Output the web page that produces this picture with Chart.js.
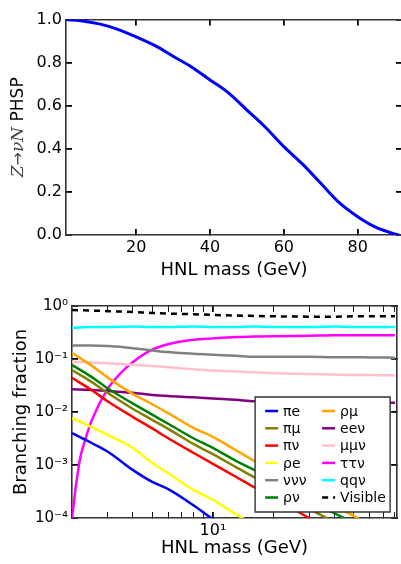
<!DOCTYPE html>
<html>
<head>
<meta charset="utf-8">
<script src="https://cdn.jsdelivr.net/npm/chart.js@4.4.0/dist/chart.umd.min.js"></script>
<style>
  html, body { margin: 0; padding: 0; background: #fff; overflow: hidden; width: 401px; height: 564px; }
  canvas { position: absolute; left: 0; }
  #phspChart { top: 0; }
  #brChart { top: 282px; }
</style>
</head>
<body>
<canvas id="phspChart" width="404" height="282"></canvas>
<canvas id="brChart" width="404" height="282"></canvas>
<script>
// top panel: Z -> nu N phase space
const phspMass = [1, 5, 10, 15, 20, 25, 30, 35, 40, 45, 50, 55, 60, 65, 70, 75, 80, 85, 90, 91.2];
const phspValue = [1.0, 0.995, 0.98, 0.955, 0.92, 0.88, 0.83, 0.78, 0.72, 0.66, 0.58, 0.50, 0.41, 0.33, 0.24, 0.15, 0.085, 0.035, 0.005, 0];
const phspXTicks = [20, 40, 60, 80];
const phspYTicks = [0, 0.2, 0.4, 0.6, 0.8, 1];

// bottom panel: branching fractions
const brMass = [2, 2.5, 3, 4, 5, 6, 8, 10, 13, 16, 20, 30, 40, 50, 60, 80];
const tauMass = [2, 2.1, 2.2, 2.3, 2.5, 3, 3.5, 4, 5, 6, 8, 10, 13, 16, 20, 30, 40, 50, 60, 80];

const piE   = [0.004, 0.0026, 0.0018, 0.00081, 0.00048, 0.00035, 0.000174, 0.000095, 0.00005, null, null, null, null, null, null, null];
const piMu  = [0.062, 0.037, 0.023, 0.0115, 0.0071, 0.0048, 0.0025, 0.0016, 0.00091, 0.00059, 0.00036, 0.00015, 0.000083, 0.00005, 0.000034, 0.000018];
const piNu  = [0.044, 0.026, 0.016, 0.0081, 0.0049, 0.0032, 0.0017, 0.00105, 0.0006, 0.00038, 0.00024, 0.0001, 0.000055, 0.000035, 0.000023, 0.000012];
const rhoE  = [0.0077, 0.0052, 0.0037, 0.0021, 0.0011, 0.0007, 0.00034, 0.00022, 0.000118, 0.000074, 0.000045, null, null, null, null, null];
const nuNuNu = [0.18, 0.18, 0.175, 0.16, 0.145, 0.135, 0.125, 0.12, 0.115, 0.11, 0.11, 0.11, 0.108, 0.108, 0.107, 0.106];
const rhoNu = [0.077, 0.046, 0.028, 0.0145, 0.0089, 0.006, 0.0032, 0.0021, 0.0012, 0.00081, 0.00051, 0.00022, 0.000123, 0.000078, 0.00005, 0.000028];
const rhoMu = [0.13, 0.075, 0.045, 0.022, 0.014, 0.0095, 0.005, 0.0034, 0.0019, 0.0012, 0.00072, 0.00031, 0.000166, 0.00011, 0.00007, 0.00003];
const eeNu  = [0.027, 0.026, 0.025, 0.023, 0.021, 0.020, 0.019, 0.018, 0.017, 0.016, 0.0158, 0.0155, 0.0153, 0.0152, 0.015, 0.015];
const muMuNu = [0.088, 0.086, 0.083, 0.078, 0.074, 0.070, 0.064, 0.061, 0.058, 0.056, 0.054, 0.052, 0.051, 0.050, 0.050, 0.049];
const tauTauNu = [0.0001, 0.00045, 0.0014, 0.0026, 0.0068, 0.027, 0.055, 0.087, 0.15, 0.19, 0.23, 0.245, 0.26, 0.265, 0.27, 0.275, 0.28, 0.28, 0.28, 0.28];
const qqNu  = [0.39, 0.40, 0.40, 0.41, 0.40, 0.40, 0.41, 0.40, 0.40, 0.41, 0.40, 0.40, 0.41, 0.40, 0.40, 0.40];
const visible = [0.84, 0.82, 0.80, 0.77, 0.74, 0.72, 0.70, 0.68, 0.66, 0.65, 0.64, 0.63, 0.63, 0.64, 0.64, 0.64];

const brXMajor = [10];
const brXMinor = [3, 4, 5, 6, 7, 8, 9, 20, 30, 40, 50, 60, 70, 80];
const brYTicks = [1e-4, 1e-3, 1e-2, 1e-1, 1];
const brYLabels = ['10⁻⁴', '10⁻³', '10⁻²', '10⁻¹', '10⁰'];

const tickFont = { family: 'DejaVu Sans', size: 16 };
const titleFont = { family: 'DejaVu Sans', size: 18 };

function pts(xs, ys) {
  return xs.map((x, i) => ({ x: x, y: ys[i] }));
}

// inward tick marks + dark spine, done by the scales themselves
const spine = { display: true, color: '#333', width: 1.6 };
function inwardGrid(majors) {
  return {
    display: true,
    drawOnChartArea: false,
    drawTicks: true,
    tickLength: -6,
    color: '#000',
    lineWidth: c => (!majors || (c.tick && majors.includes(c.tick.value))) ? 1.8 : 0.9
  };
}
const setTicks = vals => s => { s.ticks = vals.map(v => ({ value: v })); };

// rotated y title with math-style italics
const phspTitle = {
  id: 'phspTitle',
  afterDraw(chart) {
    const { ctx, chartArea: a } = chart;
    const parts = [
      ['Z', 'italic 17px "DejaVu Serif"'],
      ['→', '16px "DejaVu Sans"'],
      ['ν', 'italic 17px "DejaVu Serif"'],
      ['N', 'italic 17px "DejaVu Serif"'],
      [' PHSP', '17px "DejaVu Sans"']
    ];
    ctx.save();
    let total = 0;
    parts.forEach(p => { ctx.font = p[1]; total += ctx.measureText(p[0]).width; });
    ctx.translate(19, (a.top + a.bottom) / 2);
    ctx.rotate(-Math.PI / 2);
    ctx.textBaseline = 'middle';
    let x = -total / 2;
    parts.forEach((p, i) => {
      ctx.font = p[1];
      ctx.fillStyle = i < 4 ? '#444' : '#000';
      ctx.fillText(p[0], x, 0);
      x += ctx.measureText(p[0]).width;
    });
    ctx.restore();
  }
};

// legend box inside the lower right of the plot
const boxLegend = {
  id: 'boxLegend',
  afterDatasetsDraw(chart) {
    const { ctx, chartArea: a } = chart;
    const x0 = a.right - 142, y0 = a.bottom - 121;
    ctx.save();
    ctx.setLineDash([]);
    ctx.fillStyle = '#fff';
    ctx.strokeStyle = '#333';
    ctx.lineWidth = 1.4;
    ctx.beginPath();
    ctx.rect(x0, y0, 135, 115);
    ctx.fill();
    ctx.stroke();
    ctx.font = '14px "DejaVu Sans"';
    ctx.textBaseline = 'middle';
    chart.data.datasets.forEach((ds, i) => {
      const col = Math.floor(i / 6), row = i % 6;
      const lx = x0 + 10 + col * 57;
      const ly = y0 + 14 + row * 17.3;
      ctx.strokeStyle = ds.borderColor;
      ctx.lineWidth = 2.5;
      ctx.setLineDash(ds.borderDash || []);
      ctx.beginPath();
      ctx.moveTo(lx, ly); ctx.lineTo(lx + 13, ly);
      ctx.stroke();
      ctx.setLineDash([]);
      ctx.fillStyle = '#000';
      ctx.fillText(ds.label, lx + 18, ly + 1);
    });
    ctx.restore();
  }
};

new Chart(document.getElementById('phspChart'), {
  type: 'line',
  data: {
    datasets: [{
      label: 'PHSP',
      data: pts(phspMass, phspValue),
      borderColor: '#0000ff',
      borderWidth: 3,
      pointRadius: 0,
      cubicInterpolationMode: 'monotone'
    }]
  },
  options: {
    responsive: false,
    animation: false,
    layout: { padding: { top: 17, right: 2, left: 0, bottom: 0 } },
    plugins: {
      legend: { display: false },
      tooltip: { enabled: false }
    },
    scales: {
      x: {
        type: 'linear',
        position: 'bottom',
        min: 1,
        max: 92,
        afterBuildTicks: setTicks(phspXTicks),
        afterFit: s => { s.height = 47; },
        grid: inwardGrid(),
        border: spine,
        ticks: { color: '#000', font: tickFont, padding: 9, maxRotation: 0, autoSkip: false },
        title: { display: true, text: 'HNL mass (GeV)', color: '#000', font: titleFont, padding: { top: 0, bottom: 1 } }
      },
      x2: {
        type: 'linear',
        axis: 'x',
        position: 'top',
        min: 1,
        max: 92,
        afterBuildTicks: setTicks(phspXTicks),
        afterFit: s => { s.height = 0; },
        grid: inwardGrid(),
        border: spine,
        ticks: { display: false, autoSkip: false }
      },
      y: {
        type: 'linear',
        position: 'left',
        min: 0,
        max: 1,
        afterBuildTicks: setTicks(phspYTicks),
        afterFit: s => { s.width = 66; },
        grid: inwardGrid(),
        border: spine,
        ticks: { color: '#000', font: tickFont, padding: 10, autoSkip: false, callback: v => v.toFixed(1) },
        title: { display: false }
      },
      y2: {
        type: 'linear',
        axis: 'y',
        position: 'right',
        min: 0,
        max: 1,
        afterBuildTicks: setTicks(phspYTicks),
        afterFit: s => { s.width = 0; },
        grid: inwardGrid(),
        border: spine,
        ticks: { display: false, autoSkip: false }
      }
    }
  },
  plugins: [phspTitle]
});

const brSeries = [
  ['πe', piE, '#0000ff'],
  ['πμ', piMu, '#808000'],
  ['πν', piNu, '#ff0000'],
  ['ρe', rhoE, '#ffff00'],
  ['ννν', nuNuNu, '#808080'],
  ['ρν', rhoNu, '#008000'],
  ['ρμ', rhoMu, '#ffa500'],
  ['eeν', eeNu, '#800080'],
  ['μμν', muMuNu, '#ffc0cb'],
  ['ττν', tauTauNu, '#ff00ff'],
  ['qqν', qqNu, '#00ffff'],
  ['Visible', visible, '#000000']
];

const brXAll = brXMajor.concat(brXMinor).sort((p, q) => p - q);

new Chart(document.getElementById('brChart'), {
  type: 'line',
  data: {
    datasets: brSeries.map(([label, vals, color]) => ({
      label: label,
      data: pts(label === 'ττν' ? tauMass : brMass, vals),
      borderColor: color,
      borderWidth: 2.5,
      borderDash: label === 'Visible' ? [6, 5] : undefined,
      pointRadius: 0,
      spanGaps: false,
      cubicInterpolationMode: 'monotone'
    }))
  },
  options: {
    responsive: false,
    animation: false,
    layout: { padding: { top: 24, right: 2, left: 0, bottom: 0 } },
    plugins: {
      legend: { display: false },
      tooltip: { enabled: false }
    },
    scales: {
      x: {
        type: 'logarithmic',
        position: 'bottom',
        min: 2,
        max: 82,
        afterBuildTicks: setTicks(brXAll),
        afterFit: s => { s.height = 46; },
        grid: inwardGrid(brXMajor),
        border: spine,
        ticks: { color: '#000', font: tickFont, padding: 9, maxRotation: 0, autoSkip: false,
          callback: v => (brXMajor.includes(v) ? '10¹' : '') },
        title: { display: true, text: 'HNL mass (GeV)', color: '#000', font: titleFont, padding: { top: 0, bottom: 5 } }
      },
      x2: {
        type: 'logarithmic',
        axis: 'x',
        position: 'top',
        min: 2,
        max: 82,
        afterBuildTicks: setTicks(brXAll),
        afterFit: s => { s.height = 0; },
        grid: inwardGrid(brXMajor),
        border: spine,
        ticks: { display: false, autoSkip: false }
      },
      y: {
        type: 'logarithmic',
        position: 'left',
        min: 1e-4,
        max: 1,
        afterBuildTicks: setTicks(brYTicks),
        afterFit: s => { s.width = 72; },
        grid: inwardGrid(),
        border: spine,
        ticks: { color: '#000', font: { family: 'DejaVu Sans', size: 15 }, padding: 10, autoSkip: false,
          callback: v => brYLabels[brYTicks.indexOf(v)] },
        title: { display: true, text: 'Branching fraction', color: '#000', font: titleFont, padding: { top: 11, bottom: 0 } }
      },
      y2: {
        type: 'logarithmic',
        axis: 'y',
        position: 'right',
        min: 1e-4,
        max: 1,
        afterBuildTicks: setTicks(brYTicks),
        afterFit: s => { s.width = 0; },
        grid: inwardGrid(),
        border: spine,
        ticks: { display: false, autoSkip: false }
      }
    }
  },
  plugins: [boxLegend]
});
</script>
</body>
</html>
